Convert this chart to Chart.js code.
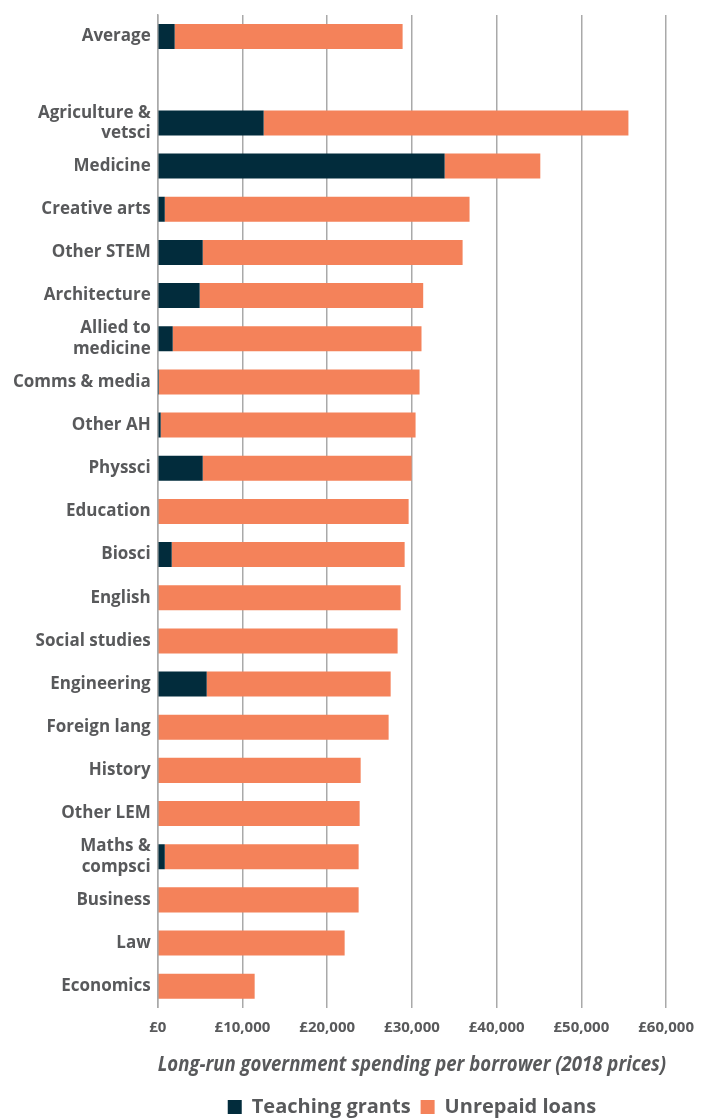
<!DOCTYPE html>
<html>
<head>
<meta charset="utf-8">
<script src="https://cdn.jsdelivr.net/npm/chart.js@4.4.1/dist/chart.umd.min.js"></script>
<style>
  html, body { margin: 0; padding: 0; background: #fff; }
  #wrap { position: relative; width: 705px; height: 1119px; }
</style>
</head>
<body>
<div id="wrap"><canvas id="chart"></canvas></div>
<script>
const categories = [
    'Average', '', ['Agriculture &', 'vetsci'], 'Medicine', 'Creative arts', 'Other STEM',
    'Architecture', ['Allied to', 'medicine'], 'Comms & media', 'Other AH', 'Physsci',
    'Education', 'Biosci', 'English', 'Social studies', 'Engineering', 'Foreign lang',
    'History', 'Other LEM', ['Maths &', 'compsci'], 'Business', 'Law', 'Economics'
];
const teachingGrants = [
    2000, null, 12500, 33860, 830, 5310,
    4950, 1770, 150, 350, 5310,
    100, 1650, 100, 100, 5780, 100,
    100, 100, 830, 100, 100, 100
];
const unrepaidLoans = [
    26900, null, 43050, 11290, 35970, 30670,
    26380, 29360, 30750, 30080, 24650,
    29510, 27490, 28570, 28210, 21710, 27150,
    23850, 23730, 22880, 23610, 21960, 11340
];
const xTicks = [0, 10000, 20000, 30000, 40000, 50000, 60000];

const textColour = '#58595b';
const gridColour = '#a9a9a9';
const fontFamily = '"Open Sans", "Noto Sans", sans-serif';

let ctx = document.getElementById('chart');
let chart = new Chart(ctx, {
    type: 'bar',
    data: {
        labels: categories,
        datasets: [{
            label: 'Teaching grants',
            data: teachingGrants,
            backgroundColor: '#022c3c',
            barPercentage: 0.58,
            categoryPercentage: 1
        }, {
            label: 'Unrepaid loans',
            data: unrepaidLoans,
            backgroundColor: '#f4825a',
            barPercentage: 0.58,
            categoryPercentage: 1
        }]
    },
    options: {
        indexAxis: 'y',
        responsive: true,
        maintainAspectRatio: false,
        animation: false,
        layout: { padding: { top: 15, right: 0, bottom: -8, left: 6 } },
        scales: {
            x: {
                stacked: true,
                min: 0,
                max: 60000,
                afterBuildTicks: function (axis) {
                    axis.ticks = xTicks.map(v => ({ value: v }));
                },
                grid: { color: gridColour, lineWidth: 1.5, drawTicks: false },
                border: { display: false },
                ticks: {
                    padding: 11,
                    color: textColour,
                    font: { family: fontFamily, size: 15, weight: 'bold' },
                    callback: v => '£' + v.toLocaleString('en-GB')
                },
                title: {
                    display: true,
                    text: 'Long-run government spending per borrower (2018 prices)',
                    align: 'end',
                    color: textColour,
                    font: { family: fontFamily, size: 21, weight: 'bold', style: 'italic' },
                    padding: { top: 5, bottom: 9 }
                }
            },
            y: {
                stacked: true,
                grid: { display: false, drawTicks: false },
                border: { display: true, color: gridColour, width: 1.5 },
                afterFit: function (axis) {
                    axis.paddingTop = 0;
                    axis.paddingBottom = 0;
                },
                ticks: {
                    autoSkip: false,
                    padding: 7,
                    color: textColour,
                    font: { family: fontFamily, size: 17, weight: 'bold', lineHeight: 1.2 }
                }
            }
        },
        plugins: {
            legend: {
                position: 'bottom',
                fullSize: false,
                labels: {
                    color: textColour,
                    boxWidth: 14,
                    boxHeight: 14,
                    padding: 10,
                    font: { family: fontFamily, size: 20, weight: 'bold', lineHeight: 1 }
                }
            },
            tooltip: { enabled: false }
        }
    }
});
</script>
</body>
</html>
